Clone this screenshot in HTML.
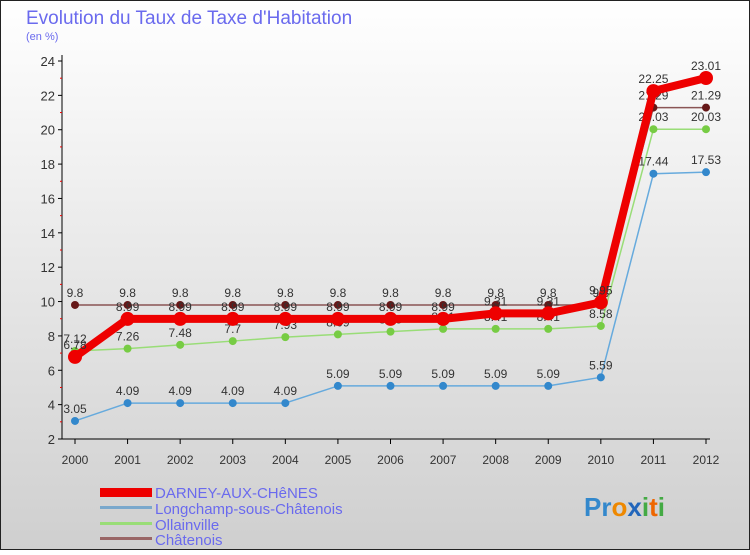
<!DOCTYPE html>
<html><head><meta charset="utf-8"><style>
body{margin:0;width:750px;height:550px;overflow:hidden;font-family:"Liberation Sans",sans-serif}
</style></head><body>
<svg width="750" height="550" xmlns="http://www.w3.org/2000/svg">
<defs><linearGradient id="bg" x1="0" y1="0" x2="0" y2="1"><stop offset="0" stop-color="#ffffff"/><stop offset="1" stop-color="#cfcfcf"/></linearGradient></defs>
<rect x="0.5" y="0.5" width="749" height="549" fill="url(#bg)" stroke="#222"/>
<text x="26" y="24" font-size="19" fill="#6a6aee">Evolution du Taux de Taxe d'Habitation</text>
<text x="26" y="40" font-size="11" fill="#6a6aee">(en %)</text>
<g id="axes"></g><g id="series"></g>
<g font-size="15" fill="#6a6aee">
<rect x="100" y="488" width="52" height="9" fill="#ee0000"/>
<text x="155" y="498">DARNEY-AUX-CHêNES</text>
<rect x="100" y="506" width="52" height="3" fill="#7aa8cc"/>
<text x="155" y="514">Longchamp-sous-Châtenois</text>
<rect x="100" y="522" width="52" height="3" fill="#99dd77"/>
<text x="155" y="530">Ollainville</text>
<rect x="100" y="537" width="52" height="3" fill="#996666"/>
<text x="155" y="545">Châtenois</text>
</g>
<text x="584" y="516" font-size="26" font-weight="bold"><tspan fill="#3388cc">Pr</tspan><tspan fill="#ee8800">o</tspan><tspan fill="#2266bb">x</tspan><tspan fill="#44aa44">i</tspan><tspan fill="#ee6600">t</tspan><tspan fill="#44aa44">i</tspan></text>
</svg>
<script>
const years=[2000,2001,2002,2003,2004,2005,2006,2007,2008,2009,2010,2011,2012];
const yTicks=[2,4,6,8,10,12,14,16,18,20,22,24];
const darney=[6.78,8.99,8.99,8.99,8.99,8.99,8.99,8.99,9.31,9.31,9.95,22.25,23.01];
const longchamp=[3.05,4.09,4.09,4.09,4.09,5.09,5.09,5.09,5.09,5.09,5.59,17.44,17.53];
const ollainville=[7.12,7.26,7.48,7.7,7.93,8.09,8.25,8.41,8.41,8.41,8.58,20.03,20.03];
const chatenois=[9.8,9.8,9.8,9.8,9.8,9.8,9.8,9.8,9.8,9.8,9.8,21.29,21.29];
const NS="http://www.w3.org/2000/svg";
const xS=i=>75+i*(706-75)/(years.length-1);
const yS=v=>439-(v-2)*(439-61)/22;
function mk(t,a,p){const e=document.createElementNS(NS,t);for(const k in a)e.setAttribute(k,a[k]);p.appendChild(e);return e;}
const ax=document.getElementById('axes');
const yl=mk('line',{x1:62,y1:55,x2:62,y2:439,stroke:'#000'},ax);


const xl=mk('line',{x1:62,y1:439,x2:710,y2:439,stroke:'#000'},ax);


yTicks.forEach(v=>{
 mk('line',{x1:58,x2:62,y1:yS(v),y2:yS(v),stroke:'#000'},ax);
 if(v<24) mk('line',{x1:60,x2:62,y1:yS(v+1),y2:yS(v+1),stroke:'#e00'},ax);
 const t=mk('text',{x:55,y:yS(v)+5,'text-anchor':'end','font-size':13,fill:'#333'},ax);
 
 
 t.textContent=v;
});
years.forEach((y,i)=>{
 mk('line',{x1:xS(i),x2:xS(i),y1:439,y2:444,stroke:'#000'},ax);
 const t=mk('text',{x:xS(i),y:464,'text-anchor':'middle','font-size':12,fill:'#333'},ax);
 
 
 t.textContent=y;
});
const sg=document.getElementById('series');
function draw(data,name,color,w,r,dot){
 const g=mk('g',{},sg);
 
 
 mk('polyline',{points:data.map((v,i)=>xS(i)+','+yS(v)).join(' '),fill:'none',stroke:color,'stroke-width':w,'stroke-linejoin':'round'},g);
 data.forEach((v,i)=>{
  const c=mk('circle',{cx:xS(i),cy:yS(v),r:r,fill:dot},g);
  
  
  const t=mk('text',{x:xS(i),y:yS(v)-8,'text-anchor':'middle','font-size':12,fill:'#333'},g);
  
  
  t.textContent=v;
 });
}
draw(chatenois,'chatenois','#8a5555',1.5,4,'#661818');
draw(ollainville,'ollainville','#99dd77',1.5,4,'#77cc44');
draw(longchamp,'longchamp','#66aadd',1.5,4,'#3388cc');
draw(darney,'darney','#ee0000',8,7,'#ee0000');
</script>
</body></html>
